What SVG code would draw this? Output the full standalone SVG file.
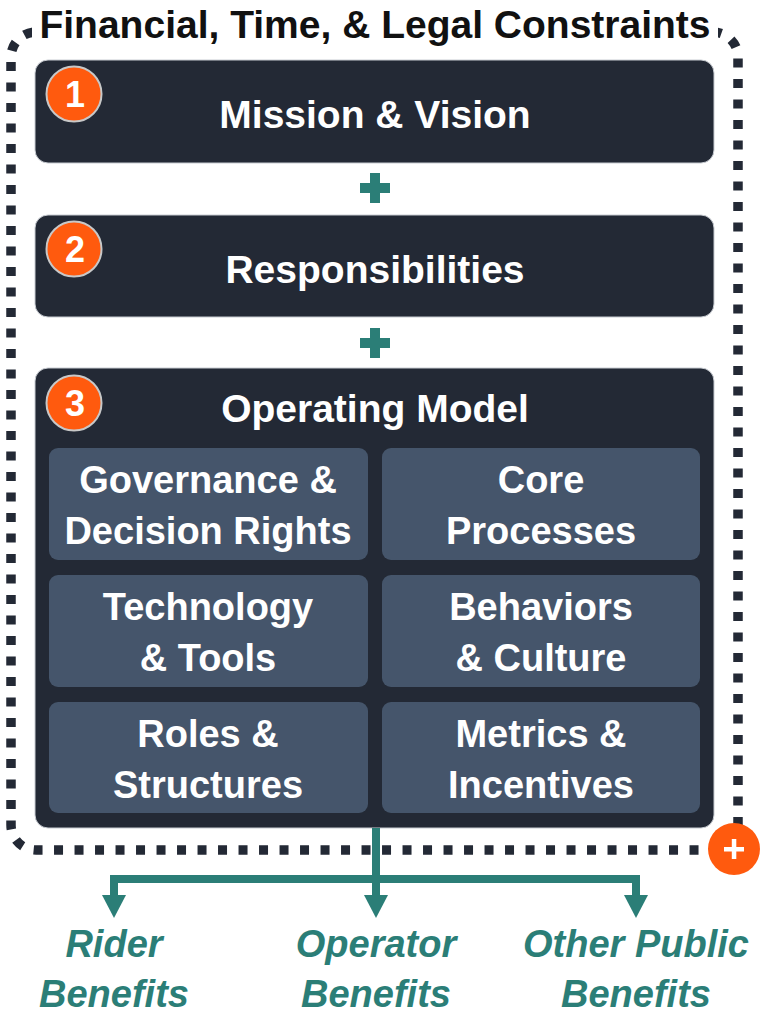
<svg xmlns="http://www.w3.org/2000/svg" width="762" height="1013" viewBox="0 0 762 1013">
<defs>
<style>
.t{font-family:"Liberation Sans",Arial,sans-serif;font-weight:bold;fill:#fff;text-anchor:middle}
.main{fill:#232935;stroke:#c8ccd2;stroke-width:1}
.sub{fill:#45556B}
.badge{fill:#FF5A0E;stroke:#c8c8c8;stroke-width:2}
.teal{fill:#2B7E77}
.lab{font-family:"Liberation Sans",Arial,sans-serif;font-weight:bold;font-style:italic;fill:#2B7E77;text-anchor:middle;font-size:38px}
.ln{stroke:#2B7E77;stroke-width:8;fill:none}
</style>
</defs>
<rect width="762" height="1013" fill="#fff"/>
<g id="frame">
<rect x="11" y="32" width="727" height="818" rx="25" fill="none" stroke="#232935" stroke-width="9.5" stroke-dasharray="9 11.5"/>
<rect x="32" y="4" width="686" height="42" fill="#fff"/>
<text class="t" x="375" y="38" font-size="39" style="fill:#111">Financial, Time, &amp; Legal Constraints</text>
</g>
<g id="node1">
<rect class="main" x="35" y="60" width="679" height="103" rx="13"/>
<circle class="badge" cx="74" cy="94" r="27.5"/>
<text class="t" x="75" y="107" font-size="36">1</text>
<text class="t" x="375" y="128" font-size="39">Mission &amp; Vision</text>
</g>
<g id="plus1">
<rect class="teal" x="360" y="183" width="30" height="10"/>
<rect class="teal" x="370" y="173" width="10" height="30"/>
</g>
<g id="node2">
<rect class="main" x="35" y="215" width="679" height="102" rx="13"/>
<circle class="badge" cx="74" cy="249" r="27.5"/>
<text class="t" x="75" y="262" font-size="36">2</text>
<text class="t" x="375" y="283" font-size="39">Responsibilities</text>
</g>
<g id="plus2">
<rect class="teal" x="360" y="338" width="30" height="10"/>
<rect class="teal" x="370" y="328" width="10" height="30"/>
</g>
<g id="node3">
<rect class="main" x="35" y="368" width="679" height="460" rx="13"/>
<circle class="badge" cx="74" cy="403" r="27.5"/>
<text class="t" x="75" y="416" font-size="36">3</text>
<text class="t" x="375" y="422" font-size="39">Operating Model</text>
</g>
<g id="sub1">
<rect class="sub" x="49" y="448" width="319" height="112" rx="9"/>
<text class="t" x="208" y="493" font-size="38">Governance &amp;</text>
<text class="t" x="208" y="544" font-size="38">Decision Rights</text>
</g>
<g id="sub2">
<rect class="sub" x="382" y="448" width="318" height="112" rx="9"/>
<text class="t" x="541" y="493" font-size="38">Core</text>
<text class="t" x="541" y="544" font-size="38">Processes</text>
</g>
<g id="sub3">
<rect class="sub" x="49" y="575" width="319" height="112" rx="9"/>
<text class="t" x="208" y="620" font-size="38">Technology</text>
<text class="t" x="208" y="671" font-size="38">&amp; Tools</text>
</g>
<g id="sub4">
<rect class="sub" x="382" y="575" width="318" height="112" rx="9"/>
<text class="t" x="541" y="620" font-size="38">Behaviors</text>
<text class="t" x="541" y="671" font-size="38">&amp; Culture</text>
</g>
<g id="sub5">
<rect class="sub" x="49" y="702" width="319" height="111" rx="9"/>
<text class="t" x="208" y="747" font-size="38">Roles &amp;</text>
<text class="t" x="208" y="798" font-size="38">Structures</text>
</g>
<g id="sub6">
<rect class="sub" x="382" y="702" width="318" height="111" rx="9"/>
<text class="t" x="541" y="747" font-size="38">Metrics &amp;</text>
<text class="t" x="541" y="798" font-size="38">Incentives</text>
</g>
<g id="connectors">
<path class="ln" d="M376 828V896M114 896V879H636V896"/>
<polygon class="teal" points="102,895 126,895 114,918"/>
<polygon class="teal" points="364,895 388,895 376,918"/>
<polygon class="teal" points="624,895 648,895 636,918"/>
</g>
<g id="plusBadge">
<circle cx="734" cy="849" r="26" fill="#FF5A0E"/>
<rect x="724" y="847" width="20" height="4.5" fill="#fff"/>
<rect x="731.8" y="839" width="4.5" height="20" fill="#fff"/>
</g>
<g id="labels">
<text class="lab" x="114" y="957">Rider</text>
<text class="lab" x="114" y="1007">Benefits</text>
<text class="lab" x="376" y="957">Operator</text>
<text class="lab" x="376" y="1007">Benefits</text>
<text class="lab" x="636" y="957">Other Public</text>
<text class="lab" x="636" y="1007">Benefits</text>
</g>
</svg>
